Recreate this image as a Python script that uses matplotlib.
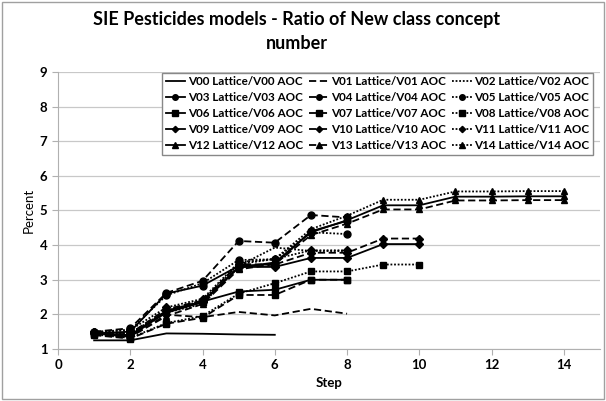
import matplotlib
matplotlib.use("Agg")
import matplotlib.pyplot as plt
from matplotlib.patches import Rectangle

plt.rcParams['font.family'] = ['Lato', 'DejaVu Sans']

title = "SIE Pesticides models - Ratio of New class concept\nnumber"
x_label = "Step"
y_label = "Percent"

names = ["V%02d Lattice/V%02d AOC" % (i, i) for i in range(15)]

V00 = [1.25, 1.25, 1.45, 1.44, 1.42, 1.41]
V01 = [1.45, 1.35, 1.99, 1.92, 2.07, 1.97, 2.16, 2.02]
V02 = [1.50, 1.45, 2.05, 2.30, 3.40, 3.93, 3.83, 3.83]
V03 = [1.45, 1.50, 2.60, 2.83, 3.40, 3.45, 4.40, 4.70]
V04 = [1.50, 1.60, 2.62, 2.97, 4.12, 4.07, 4.87, 4.80]
V05 = [1.48, 1.55, 2.55, 2.90, 3.57, 3.59, 4.37, 4.32]
V06 = [1.45, 1.35, 2.10, 2.37, 2.66, 2.71, 3.00, 3.00]
V07 = [1.40, 1.30, 1.73, 1.90, 2.56, 2.56, 3.00, 3.00]
V08 = [1.42, 1.32, 1.75, 1.95, 2.60, 2.90, 3.24, 3.24, 3.44, 3.44]
V09 = [1.45, 1.40, 2.10, 2.37, 3.37, 3.37, 3.63, 3.63, 4.03, 4.03]
V10 = [1.50, 1.45, 2.15, 2.40, 3.45, 3.44, 3.78, 3.78, 4.19, 4.19]
V11 = [1.50, 1.55, 2.20, 2.45, 3.50, 3.60, 3.85, 3.85]
V12 = [1.45, 1.40, 2.05, 2.35, 3.35, 3.50, 4.37, 4.72, 5.15, 5.15, 5.40, 5.40, 5.41, 5.41]
V13 = [1.42, 1.35, 1.95, 2.30, 3.30, 3.45, 4.29, 4.62, 5.03, 5.03, 5.29, 5.29, 5.30, 5.30]
V14 = [1.48, 1.45, 2.10, 2.40, 3.45, 3.60, 4.46, 4.85, 5.31, 5.31, 5.55, 5.55, 5.56, 5.56]

series = [V00, V01, V02, V03, V04, V05, V06, V07, V08, V09, V10, V11, V12, V13, V14]

y_ticks = [1, 2, 3, 4, 5, 6, 7, 8, 9]
x_ticks = [0, 2, 4, 6, 8, 10, 12, 14]

styles = ['-', (0, (4, 2)), (0, (1, 1))]
markers = [None, 'o', 's', 'D', '^']
msizes = [0, 5.0, 5.0, 4.0, 5.0]

fig = plt.figure(figsize=(6.06, 4.01), dpi=100)
ax = fig.add_axes([58/606, 1-349/401, (600-58)/606, (349-72)/401])

handles = []
for i, vals in enumerate(series):
    steps = list(range(1, len(vals) + 1))
    g = i // 3
    s = i % 3
    h, = ax.plot(steps, vals, color='black', linestyle=styles[s], linewidth=1.3,
                 marker=markers[g], markersize=msizes[g], markerfacecolor='black',
                 markeredgecolor='black', label=names[i])
    handles.append(h)

ax.set_xlim(0, 15)
ax.set_ylim(1, 9)
ax.set_xticks(x_ticks)
ax.set_yticks(y_ticks)
ax.grid(axis='y', color='#c8c8c8', linewidth=0.9)
ax.set_axisbelow(True)
for sp in ['top', 'right']:
    ax.spines[sp].set_visible(False)
for sp in ['left', 'bottom']:
    ax.spines[sp].set_color('#b0b0b0')
ax.tick_params(axis='both', colors='#b0b0b0', length=4, labelcolor='black')
for lab in ax.get_xticklabels() + ax.get_yticklabels():
    lab.set_fontweight('bold')
    lab.set_fontsize(9.5)
ax.set_xlabel(x_label, fontsize=9.5, fontweight='bold', labelpad=4)
ax.set_ylabel(y_label, fontsize=9.5, labelpad=4)

order = []
for c in range(3):
    for r in range(5):
        order.append(handles[r * 3 + c])
leg = ax.legend(handles=order, labels=[h.get_label() for h in order], ncol=3,
                loc='upper left', bbox_to_anchor=((162-58)/542, 1.0 - (73-72)/277),
                frameon=True, fancybox=False, edgecolor='#888888', framealpha=1,
                prop={'weight': 'bold', 'size': 8.4}, handlelength=1.7, handletextpad=0.25,
                columnspacing=0.45, labelspacing=0.42, borderpad=0.3, borderaxespad=0,
                markerscale=0.8)
leg.get_frame().set_linewidth(1.0)

fig.text(0.49, 1-31.5/401, title, ha='center', va='center', fontsize=13, fontweight='bold',
         linespacing=1.5)

fig.patches.append(Rectangle((2/606, 2/401), 602/606, 397/401, transform=fig.transFigure,
                             fill=False, edgecolor='#a0a0a0', linewidth=1.0))

fig.savefig('out.png', dpi=100)
